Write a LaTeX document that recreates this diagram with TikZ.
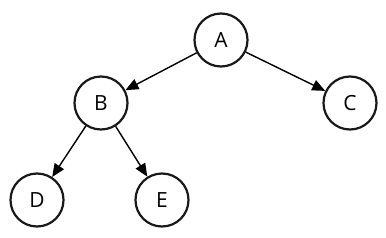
\documentclass[tikz,border=0pt]{standalone}
\usepackage{fontspec}
\setmainfont{Open Sans}
\usetikzlibrary{arrows.meta}
\begin{document}
\begin{tikzpicture}[x=1bp,y=-1bp,
  vert/.style={circle,draw=black!90,line width=2.2bp,minimum size=53bp,inner sep=0pt,font=\fontsize{21}{23}\selectfont},
  edge/.style={line width=1.4bp,-{Triangle[length=13bp,width=11bp]}}]
\useasboundingbox (0,0) rectangle (386,238);
\node[vert] (A) at (221,40) {A};
\node[vert] (B) at (101,103) {B};
\node[vert] (C) at (350,103) {C};
\node[vert] (D) at (37,200) {D};
\node[vert] (E) at (162,200) {E};
\draw[edge] (A) -- (B);
\draw[edge] (A) -- (C);
\draw[edge] (B) -- (D);
\draw[edge] (B) -- (E);
\end{tikzpicture}
\end{document}
